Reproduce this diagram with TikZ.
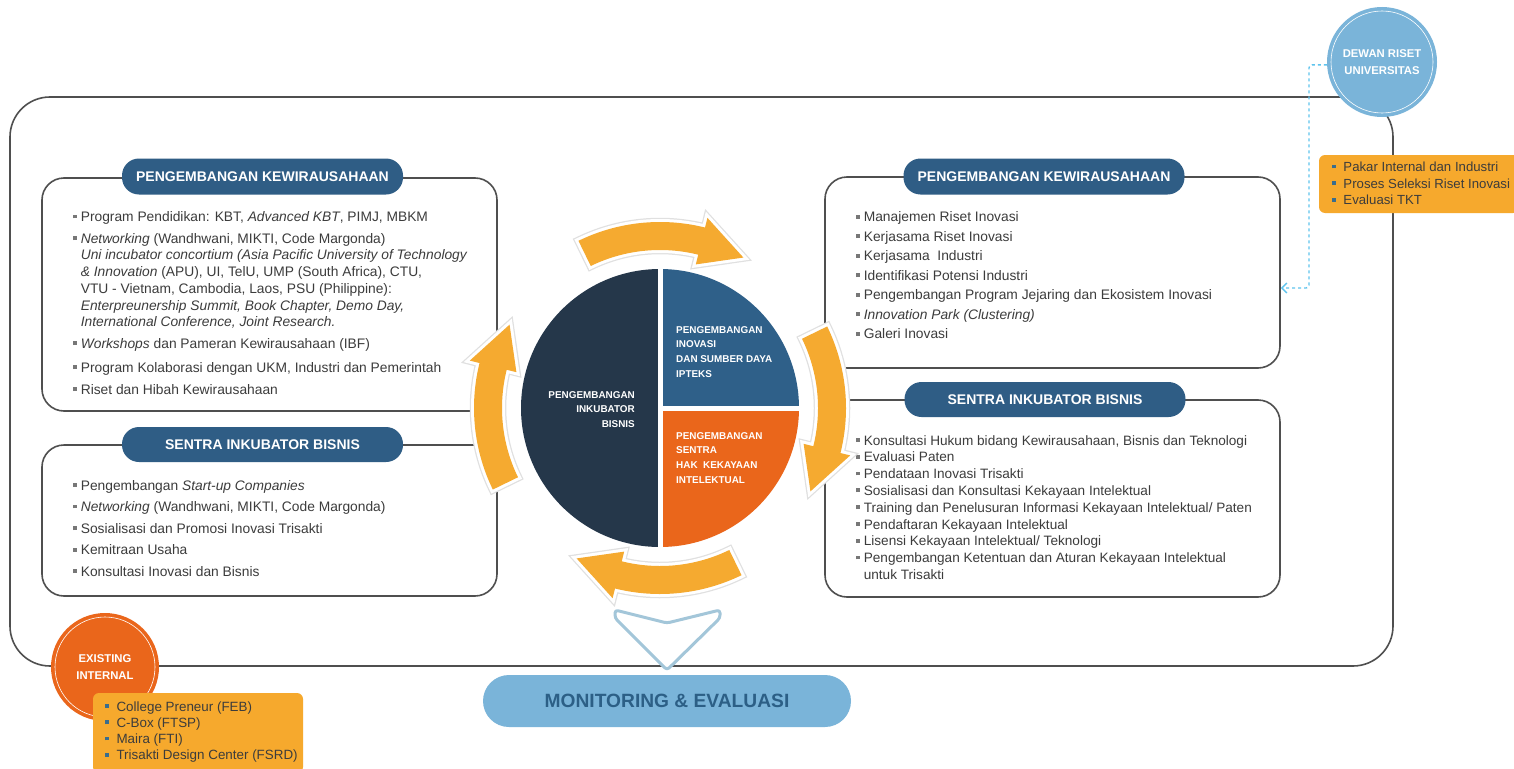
\documentclass[tikz,border=0pt]{standalone}
\usepackage{fontspec}
\setmainfont{Liberation Sans}
\usetikzlibrary{arrows.meta}
\usetikzlibrary{positioning}

% colours
\definecolor{pillblue}{HTML}{2F5D85}
\definecolor{navy}{HTML}{25374A}
\definecolor{pieblue}{HTML}{2F6089}
\definecolor{pieorange}{HTML}{EA661B}
\definecolor{arrowyel}{HTML}{F5AA30}
\definecolor{boxyel}{HTML}{F6A92D}
\definecolor{skyblue}{HTML}{7AB4D9}
\definecolor{framegray}{HTML}{4F4F4F}
\definecolor{txtgray}{HTML}{3C3C3C}
\definecolor{dashblue}{HTML}{5EC4EE}
\definecolor{chevblue}{HTML}{A3C6D9}
\definecolor{bulletblue}{HTML}{3A6D8C}
\definecolor{montext}{HTML}{2C5F86}

% bullets
\newcommand{\itemsq}[1][txtgray!70]{\makebox[7.6pt][l]{\textcolor{#1}{\rule[3.2pt]{3.8pt}{3.8pt}}}}
\newcommand{\contind}{\hspace*{7.6pt}}

% one curved arrow round the circle, #1 = middle angle
\newcommand{\cycarrow}[1]{%
  \path[cyc] ({#1+26}:186) arc[start angle={#1+26}, end angle={#1-14}, radius=186]
    -- ({#1-14}:196) -- ({#1-29}:172) -- ({#1-14}:148) -- ({#1-14}:158)
    arc[start angle={#1-14}, end angle={#1+26}, radius=158] -- cycle;}

\tikzset{
  frame/.style={draw=framegray, line width=1.6pt},
  listbox/.style={frame, rounded corners=22pt, fill=white, inner sep=0pt},
  pill/.style={fill=pillblue, rounded corners=17pt, text=white, inner sep=0pt,
    font=\fontsize{14}{16}\selectfont\bfseries, minimum width=281pt, minimum height=36pt},
  items/.style={anchor=base west, align=left, inner sep=0pt, text=txtgray,
    font=\fontsize{13.8}{16.7}\selectfont},
  pietext/.style={text=white, inner sep=0pt, font=\fontsize{9.9}{14.7}\selectfont\bfseries},
  yelbox/.style={fill=boxyel, rounded corners=6pt, inner sep=0pt},
  roundel/.style={circle, inner sep=0pt, text=white, align=center,
    font=\fontsize{11.3}{17}\selectfont\bfseries},
  cyc/.style={fill=arrowyel, line join=round,
    preaction={draw=white, line width=6pt, preaction={draw=black!12, line width=8.5pt}}},
  dashcon/.style={draw=dashblue, line width=1.4pt, dashed, rounded corners=3pt,
    -{Straight Barb[length=5pt, width=10pt]}}
}

\begin{document}
\begin{tikzpicture}[x=1pt, y=-1pt]
\useasboundingbox (0,0) rectangle (1514,768);
\fill[white] (0,0) rectangle (1514,768);

% outer frame
\draw[frame, rounded corners=40pt] (10,97) rectangle (1393,666);

% list boxes
\node[listbox, minimum width=455pt, minimum height=233pt] (boxtl) at (269.5,294.5) {};
\node[listbox, minimum width=455pt, minimum height=151pt] (boxbl) at (269.5,520.5) {};
\node[listbox, minimum width=455pt, minimum height=191pt] (boxtr) at (1052.5,272.5) {};
\node[listbox, minimum width=455pt, minimum height=197pt] (boxbr) at (1052.5,498.5) {};

\node[pill] (pilltl) at (262.5,176.5) {PENGEMBANGAN KEWIRAUSAHAAN};
\node[pill, minimum height=35pt] (pillbl) at (262.5,444.5) {SENTRA INKUBATOR BISNIS};
\node[pill] (pilltr) at (1044,176.5) {PENGEMBANGAN KEWIRAUSAHAAN};
\node[pill, minimum height=35pt] (pillbr) at (1045,399.5) {SENTRA INKUBATOR BISNIS};

% lists (base = last line)
\node[items] (txttl) at (73,394.3) {%
\itemsq Program Pendidikan: KBT, \textit{Advanced KBT}, PIMJ, MBKM\\[4.9pt]
\itemsq \textit{Networking} (Wandhwani, MIKTI, Code Margonda)\\
\contind\textit{Uni incubator concortium (Asia Pacific University of Technology}\\
\contind\textit{\& Innovation} (APU), UI, TelU, UMP (South Africa), CTU,\\
\contind VTU - Vietnam, Cambodia, Laos, PSU (Philippine):\\
\contind\textit{Enterpreunership Summit, Book Chapter, Demo Day,}\\
\contind\textit{International Conference, Joint Research.}\\[4.9pt]
\itemsq \textit{Workshops} dan Pameran Kewirausahaan (IBF)\\[7.3pt]
\itemsq Program Kolaborasi dengan UKM, Industri dan Pemerintah\\[5.3pt]
\itemsq Riset dan Hibah Kewirausahaan};

\node[items, font=\fontsize{13.8}{21.6}\selectfont] (txtbl) at (73,576.4) {%
\itemsq Pengembangan \textit{Start-up Companies}\\
\itemsq \textit{Networking} (Wandhwani, MIKTI, Code Margonda)\\
\itemsq Sosialisasi dan Promosi Inovasi Trisakti\\
\itemsq Kemitraan Usaha\\
\itemsq Konsultasi Inovasi dan Bisnis};

\node[items, font=\fontsize{13.8}{19.5}\selectfont] (txttr) at (856,338.7) {%
\itemsq Manajemen Riset Inovasi\\
\itemsq Kerjasama Riset Inovasi\\
\itemsq Kerjasama\ \ Industri\\
\itemsq Identifikasi Potensi Industri\\
\itemsq Pengembangan Program Jejaring dan Ekosistem Inovasi\\
\itemsq \textit{Innovation Park (Clustering)}\\
\itemsq Galeri Inovasi};

\node[items, font=\fontsize{13.6}{16.8}\selectfont] (txtbr) at (856,579.4) {%
\itemsq Konsultasi Hukum bidang Kewirausahaan, Bisnis dan Teknologi\\
\itemsq Evaluasi Paten\\
\itemsq Pendataan Inovasi Trisakti\\
\itemsq Sosialisasi dan Konsultasi Kekayaan Intelektual\\
\itemsq Training dan Penelusuran Informasi Kekayaan Intelektual/ Paten\\
\itemsq Pendaftaran Kekayaan Intelektual\\
\itemsq Lisensi Kekayaan Intelektual/ Teknologi\\
\itemsq Pengembangan Ketentuan dan Aturan Kekayaan Intelektual\\
\contind untuk Trisakti};

% arrows round the circle
\begin{scope}[shift={(660,408)}, yscale=-1]
\cycarrow{90}
\cycarrow{0}
\cycarrow{-90}
\cycarrow{180}
\end{scope}

% circle
\begin{scope}[shift={(660,408)}, yscale=-1]
\fill[navy] (0,0) -- (90:139) arc[start angle=90, end angle=270, radius=139] -- cycle;
\fill[pieblue] (0,0) -- (0:139) arc[start angle=0, end angle=90, radius=139] -- cycle;
\fill[pieorange] (0,0) -- (-90:139) arc[start angle=-90, end angle=0, radius=139] -- cycle;
\draw[white, line width=5pt] (90:141) -- (-90:141);
\draw[white, line width=5pt] (0,0) -- (0:141);
\end{scope}

\node[pietext, anchor=base east, align=right] (pieleft) at (635,427.4) {PENGEMBANGAN\\INKUBATOR\\BISNIS};
\node[pietext, anchor=base west, align=left] (pietop) at (676,377.1) {PENGEMBANGAN\\INOVASI\\DAN SUMBER DAYA\\IPTEKS};
\node[pietext, anchor=base west, align=left] (piebot) at (676,483.1) {PENGEMBANGAN\\SENTRA\\HAK\ \ KEKAYAAN\\INTELEKTUAL};

% monitoring
\draw[chevblue, line width=3pt, fill=white, rounded corners=3pt, line join=round]
  (615,610) -- (667,623) -- (720,610) -- (720,618) -- (667,670) -- (615,618) -- cycle;
\node[fill=skyblue, rounded corners=26pt, minimum width=368pt, minimum height=52pt,
  text=montext, font=\fontsize{19.2}{22}\selectfont\bfseries] (monev) at (667,701) {MONITORING \& EVALUASI};

% dewan riset
\node[roundel, fill=skyblue, minimum size=110pt] (dewan) at (1382,62) {DEWAN RISET\\UNIVERSITAS};
\draw[white, line width=0.6pt] (dewan.center) circle[radius=51];
\coordinate (dashturn) at (1309,180);
\draw[dashcon] (dewan.183) -| (dashturn) |- ([yshift=-15.5pt]boxtr.east);
\node[yelbox, minimum width=200pt, minimum height=58pt] (pakar) at (1419,184) {};
\node[items, font=\fontsize{13.2}{16.7}\selectfont] (txtpakar) at (1332,204.9) {%
\itemsq[bulletblue] Pakar Internal dan Industri\\
\itemsq[bulletblue] Proses Seleksi Riset Inovasi\\
\itemsq[bulletblue] Evaluasi TKT};

% existing internal
\node[roundel, fill=pieorange, minimum size=108pt] (exist) at (105,667) {EXISTING\\INTERNAL};
\draw[white, line width=0.6pt] (exist.center) circle[radius=50];
\node[yelbox, minimum width=210pt, minimum height=80pt] (faklt) at (198,733) {};
\node[items, font=\fontsize{13.4}{16.3}\selectfont] (txtfaklt) at (105,759.9) {%
\itemsq[bulletblue] College Preneur (FEB)\\
\itemsq[bulletblue] C-Box (FTSP)\\
\itemsq[bulletblue] Maira (FTI)\\
\itemsq[bulletblue] Trisakti Design Center (FSRD)};
\end{tikzpicture}
\end{document}
